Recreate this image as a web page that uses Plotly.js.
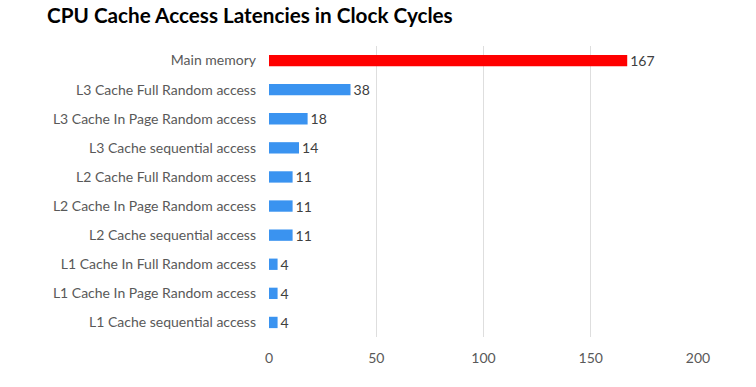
<!DOCTYPE html>
<html>
<head>
<meta charset="utf-8">
<script src="https://cdn.plot.ly/plotly-3.0.1.min.js"></script>
<style>html,body{margin:0;padding:0;background:#fff;}#chart{width:756px;height:387px;}</style>
</head>
<body>
<div id="chart"></div>
<script>
const categories = [
  "Main memory",
  "L3 Cache Full Random access",
  "L3 Cache In Page Random access",
  "L3 Cache sequential access",
  "L2 Cache Full Random access",
  "L2 Cache In Page Random access",
  "L2 Cache sequential access",
  "L1 Cache In Full Random access",
  "L1 Cache In Page Random access",
  "L1 Cache sequential access"
];
const latencies = [167, 38, 18, 14, 11, 11, 11, 4, 4, 4];
const xTicks = [0, 50, 100, 150, 200];

const colors = categories.map((c, i) => i === 0 ? "#FF0000" : "#3A93F0");

const trace = {
  type: "bar",
  orientation: "h",
  x: latencies,
  y: categories,
  marker: { color: colors },
  width: 0.39,
  text: latencies.map(String),
  textposition: "outside",
  constraintext: "none",
  cliponaxis: false,
  textfont: { family: "Lato, sans-serif", size: 14, color: "#404040" },
  hoverinfo: "none"
};

const layout = {
  width: 756,
  height: 387,
  margin: { l: 269, r: 58, t: 46, b: 50 },
  paper_bgcolor: "#ffffff",
  plot_bgcolor: "#ffffff",
  font: { family: "Lato, sans-serif", color: "#595959" },
  title: {
    text: "<b>CPU Cache Access Latencies in Clock Cycles</b>",
    font: { family: "Lato, sans-serif", size: 20.7, color: "#000000" },
    x: 47 / 756, xref: "container", xanchor: "left",
    y: 1, yref: "container", yanchor: "top",
    pad: { t: 9 }
  },
  xaxis: {
    range: [0, 200],
    tickvals: xTicks,
    ticktext: xTicks.map(String),
    showgrid: true,
    gridcolor: "#DEDEDE",
    gridwidth: 1,
    zeroline: false,
    showline: false,
    ticks: "",
    tickfont: { size: 14, color: "#595959" },
    ticklabelstandoff: 11,
    fixedrange: true
  },
  yaxis: {
    type: "category",
    autorange: "reversed",
    showgrid: false,
    zeroline: false,
    showline: false,
    ticks: "",
    tickfont: { size: 14, color: "#595959" },
    ticklabelstandoff: 12,
    fixedrange: true
  },
  showlegend: false
};

Plotly.newPlot("chart", [trace], layout, { displayModeBar: false, staticPlot: true });
</script>
</body>
</html>
